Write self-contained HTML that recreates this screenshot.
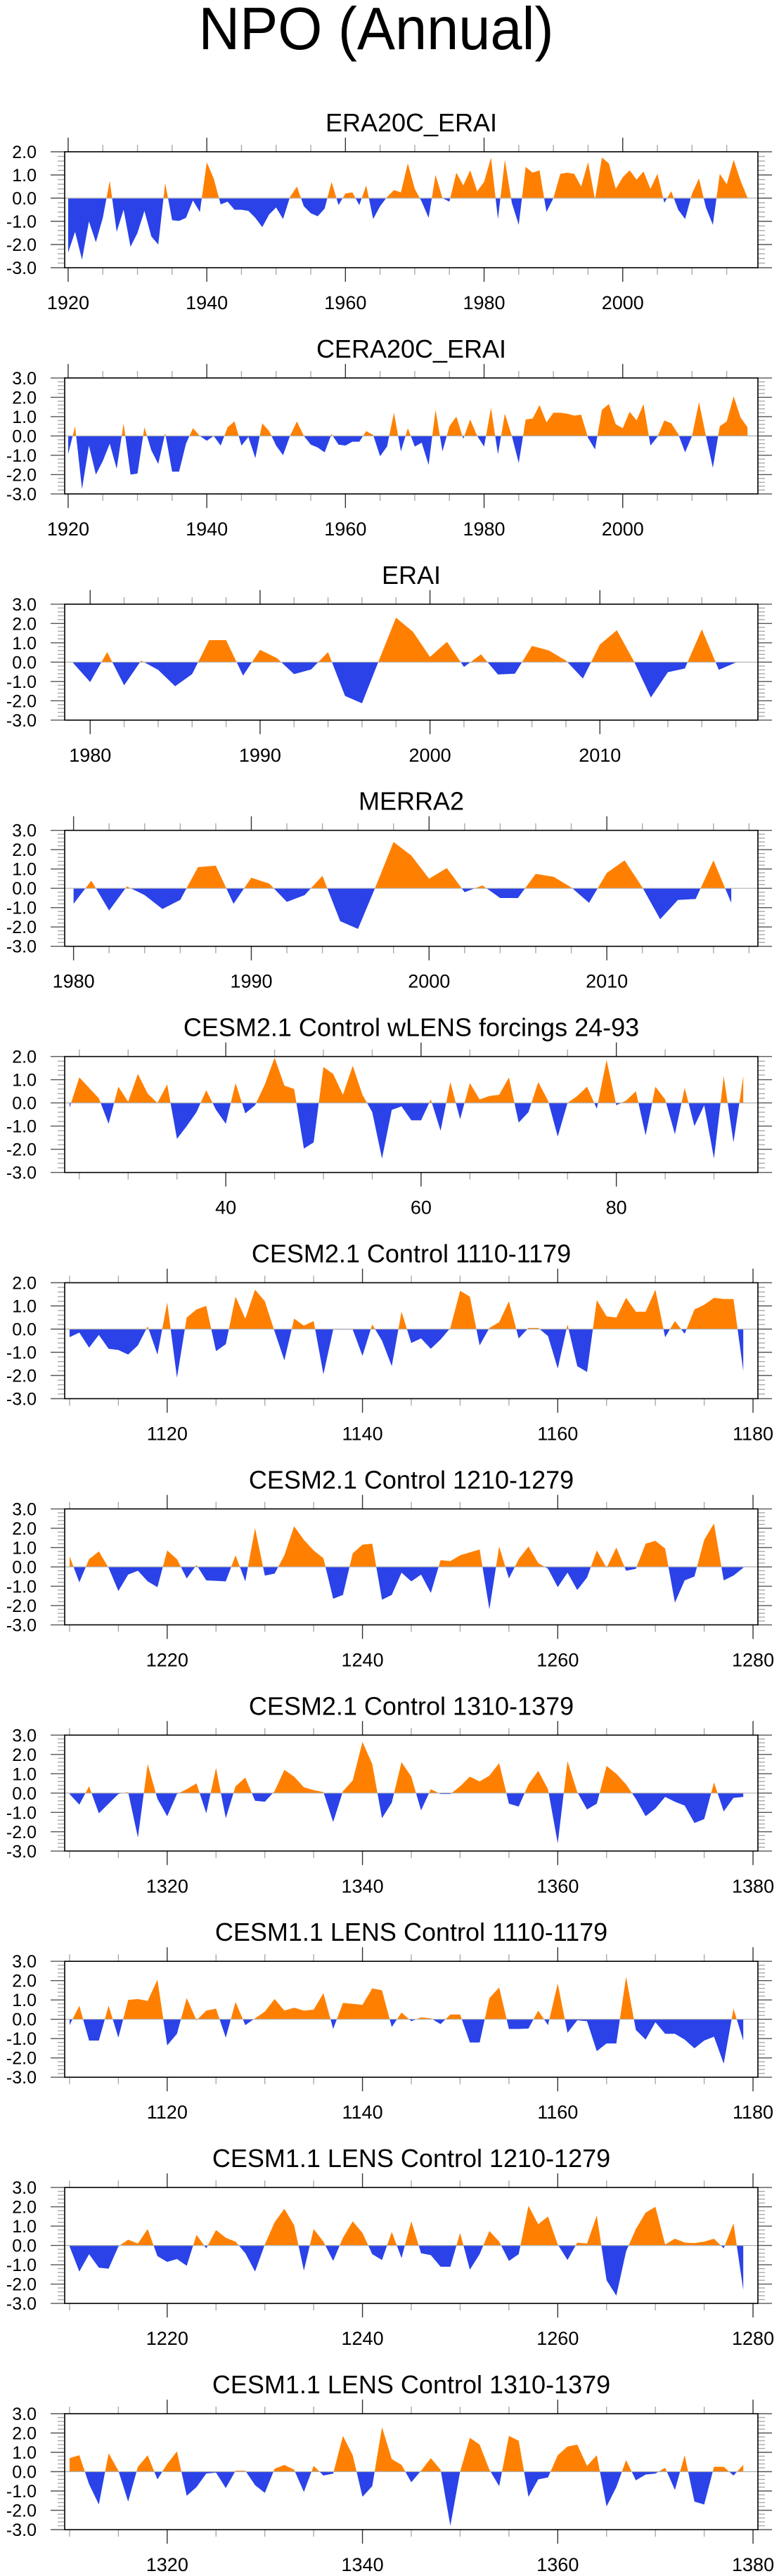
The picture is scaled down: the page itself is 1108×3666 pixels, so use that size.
<!DOCTYPE html>
<html><head><meta charset="utf-8"><title>NPO (Annual)</title>
<style>
html,body{margin:0;padding:0;background:#fff;}
svg{display:block;font-family:"Liberation Sans",Arial,sans-serif;}
</style></head>
<body>
<svg id="fig" width="1108" height="3666" viewBox="0 0 1108 3666" xmlns="http://www.w3.org/2000/svg">
<rect x="0" y="0" width="1108" height="3666" fill="#fff"/>
<text x="535" y="70" font-size="85" text-anchor="middle" textLength="505" lengthAdjust="spacingAndGlyphs" fill="#000">NPO (Annual)</text>
</svg>
<script>
// ---- data (one small array set per panel) ----
const titles = ["ERA20C_ERAI","CERA20C_ERAI","ERAI","MERRA2","CESM2.1 Control wLENS forcings 24-93","CESM2.1 Control 1110-1179","CESM2.1 Control 1210-1279","CESM2.1 Control 1310-1379","CESM1.1 LENS Control 1110-1179","CESM1.1 LENS Control 1210-1279","CESM1.1 LENS Control 1310-1379"];
const startYears = [1920,1920,1979,1980,24,1110,1210,1310,1110,1210,1310];
const xMins = [1919.5,1919.5,1978.5,1979.5,23.5,1109.5,1209.5,1309.5,1109.5,1209.5,1309.5];
const xMaxs = [2019.5,2019.5,2019.3,2018.5,94.5,1180.5,1280.5,1380.5,1180.5,1280.5,1380.5];
const yMaxs = [2,3,3,3,2,2,3,3,3,3,3];
const majorSteps = [20,20,10,10,20,20,20,20,20,20,20];
const minorSteps = [5,5,2,2,5,5,5,5,5,5,5];

const era20c = [-2.35,-1.45,-2.65,-1.0,-1.9,-0.85,0.75,-1.45,-0.5,-2.1,-1.5,-0.55,-1.65,-2.0,0.65,-0.95,-0.98,-0.85,-0.1,-0.6,1.55,0.85,-0.27,-0.15,-0.5,-0.5,-0.55,-0.85,-1.25,-0.7,-0.4,-0.9,0.05,0.5,-0.35,-0.65,-0.78,-0.45,0.7,-0.3,0.2,0.25,-0.3,0.55,-0.9,-0.35,0.05,0.35,0.25,1.5,0.4,-0.15,-0.85,1.0,0.0,-0.15,1.1,0.55,1.2,0.3,0.7,1.75,-0.9,1.65,-0.2,-1.15,1.35,1.1,1.2,-0.6,0.0,1.05,1.1,1.05,0.5,1.55,-0.05,1.75,1.5,0.4,0.9,1.2,0.8,1.15,0.4,1.05,-0.2,0.3,-0.5,-0.9,0.2,0.85,-0.4,-1.15,1.05,0.6,1.65,0.75,0.02];
const cera20c = [-0.95,0.5,-2.75,-0.5,-2.0,-1.3,-0.4,-1.7,0.65,-2.0,-1.95,0.45,-0.75,-1.45,0.15,-1.85,-1.85,-0.4,0.4,0.0,-0.25,0.0,-0.5,0.45,0.75,-0.5,-0.05,-1.15,0.65,0.25,-0.5,-1.0,0.0,0.75,0.0,-0.45,-0.6,-0.85,0.1,-0.45,-0.5,-0.3,-0.3,0.25,0.05,-1.05,-0.55,1.2,-0.8,0.4,-0.55,-0.35,-1.5,1.35,-0.8,0.5,1.0,-0.15,0.85,0.0,-0.55,1.45,-0.95,1.15,0.0,-1.4,0.85,0.9,1.6,0.7,1.2,1.2,1.15,1.05,1.1,-0.1,-0.7,1.35,1.65,0.6,0.4,1.25,0.8,1.65,-0.5,-0.05,0.8,0.65,0.1,-0.85,0.0,1.75,0.0,-1.65,0.5,0.75,2.05,0.95,0.45];
const erai = [-0.05,-1.03,0.52,-1.2,0.08,-0.4,-1.25,-0.62,1.14,1.14,-0.7,0.64,0.2,-0.62,-0.38,0.52,-1.75,-2.13,0.1,2.3,1.57,0.27,1.05,-0.25,0.4,-0.64,-0.6,0.84,0.6,0.08,-0.85,0.91,1.65,0.05,-1.83,-0.52,-0.33,1.7,-0.4,-0.02];
const merra2 = [-0.8,0.4,-1.15,0.1,-0.35,-1.07,-0.6,1.1,1.17,-0.8,0.55,0.25,-0.7,-0.35,0.65,-1.7,-2.1,0.1,2.4,1.7,0.5,1.05,-0.2,0.15,-0.5,-0.5,0.75,0.6,0.05,-0.75,0.8,1.45,0.05,-1.6,-0.6,-0.55,1.45,-0.75];
const cesm2Lens = [-0.2,1.1,0.65,0.2,-0.9,0.7,0.05,1.25,0.4,0.0,0.8,-1.55,-1.0,-0.4,0.55,-0.3,-0.9,0.85,-0.45,-0.1,0.8,1.95,0.75,0.6,-1.97,-1.7,1.55,1.25,0.35,1.6,0.35,-0.4,-2.4,-0.3,-0.15,-0.75,-0.75,0.15,-1.2,0.9,-0.7,0.85,0.15,0.3,0.35,1.1,-0.85,-0.4,0.9,0.1,-1.45,0.0,0.3,0.7,-0.25,1.85,-0.1,0.1,0.5,-1.4,0.7,0.15,-1.35,0.65,-1.0,-0.1,-2.4,1.15,-1.7,1.15];
const cesm2c1110 = [-0.35,-0.15,-0.8,-0.25,-0.85,-0.9,-1.1,-0.7,0.12,-1.1,1.15,-2.1,0.5,0.85,1.0,-0.95,-0.65,1.4,0.45,1.7,1.2,-0.1,-1.35,0.45,0.15,0.35,-1.95,-0.02,-0.02,-0.02,-1.15,0.2,-0.5,-1.6,0.75,-0.6,-0.4,-0.85,-0.45,0.05,1.65,1.4,-0.7,0.05,0.3,1.2,-0.4,0.05,0.05,-0.3,-1.7,0.2,-1.6,-1.85,1.25,0.55,0.5,1.35,0.75,0.75,1.7,-0.35,0.35,-0.2,0.85,1.05,1.35,1.3,1.3,-1.8];
const cesm2c1210 = [0.55,-0.8,0.4,0.8,-0.05,-1.25,-0.4,-0.2,-0.75,-1.05,0.85,0.4,-0.6,0.1,-0.7,-0.72,-0.75,0.6,-0.75,2.0,-0.45,-0.35,0.6,2.1,1.4,0.85,0.45,-1.65,-1.45,0.7,1.15,1.2,-1.7,-1.45,-0.3,-0.75,-0.4,-1.35,0.35,0.3,0.6,0.75,0.9,-2.2,1.05,-0.6,0.4,1.05,0.2,-0.1,-1.05,-0.3,-1.2,-0.55,0.85,-0.05,1.0,-0.2,-0.1,1.2,1.35,0.95,-1.85,-0.7,-0.5,1.4,2.25,-0.7,-0.45,-0.05];
const cesm2c1310 = [-0.05,-0.6,0.35,-1.05,-0.55,-0.05,0.05,-2.3,1.5,-0.3,-1.2,-0.05,0.2,0.5,-1.05,1.3,-1.3,0.35,0.8,-0.4,-0.45,0.1,1.2,0.85,0.3,0.15,0.05,-1.5,0.1,0.65,2.65,1.5,-1.3,-0.5,1.6,0.85,-0.9,0.2,-0.05,-0.05,0.35,0.85,0.6,0.9,1.55,-0.55,-0.7,0.45,1.15,0.2,-2.6,1.65,0.05,-0.85,-0.55,1.4,1.0,0.45,-0.3,-1.2,-0.8,-0.2,-0.45,-0.65,-1.55,-1.35,0.55,-0.95,-0.25,-0.2];
const cesm1c1110 = [-0.3,0.7,-1.1,-1.1,0.7,-0.95,1.0,1.05,0.95,2.05,-1.35,-0.75,1.1,-0.05,0.45,0.55,-0.95,0.9,-0.3,0.05,0.4,1.05,0.45,0.6,0.45,0.5,1.35,-0.5,0.85,0.8,0.75,1.6,1.5,-0.4,0.35,-0.1,0.1,0.05,-0.25,0.25,0.25,-1.2,-1.2,1.1,1.65,-0.5,-0.5,-0.48,0.45,-0.3,1.85,-0.7,-0.05,-0.1,-1.65,-1.25,-1.25,2.2,-0.55,-1.05,-0.15,-0.75,-0.75,-1.05,-1.5,-1.1,-0.9,-2.3,0.55,-1.1];
const cesm1c1210 = [-0.05,-1.35,-0.45,-1.15,-1.2,-0.05,0.3,0.1,0.85,-0.55,-0.85,-0.7,-1.05,0.55,-0.15,0.8,0.4,0.2,-0.4,-1.35,0.05,1.2,1.9,1.05,-1.3,0.85,0.2,-0.8,0.4,1.25,0.65,-0.45,-0.75,0.7,-0.65,1.25,-0.4,-0.5,-1.1,-1.1,0.65,-1.25,-0.45,0.75,0.2,-0.8,-0.45,2.05,1.1,1.5,0.05,-0.75,0.15,0.1,1.55,-1.8,-2.6,-0.3,0.85,1.7,2.0,0.05,0.35,0.15,0.12,0.2,0.35,-0.15,1.15,-2.3];
const cesm1c1310 = [0.7,0.85,-0.65,-1.7,0.95,0.05,-1.55,0.25,0.85,-0.4,0.4,1.05,-1.25,-0.8,-0.1,-0.05,-0.85,0.05,0.05,-0.7,-1.1,0.15,0.35,0.1,-1.05,0.3,-0.2,-0.1,1.85,0.85,-1.3,-0.75,2.3,0.65,0.35,-0.55,0.05,0.7,0.1,-2.8,0.0,1.75,1.4,0.1,-0.75,1.85,1.6,-1.3,-0.4,-0.3,0.85,1.3,1.4,0.3,0.85,-1.8,-0.8,0.6,-0.45,-0.15,-0.1,0.2,-0.95,0.85,-1.55,-1.7,0.25,0.25,-0.2,0.35];
const seriesList = [era20c,cera20c,erai,merra2,cesm2Lens,cesm2c1110,cesm2c1210,cesm2c1310,cesm1c1110,cesm1c1210,cesm1c1310];
const yMin = -3;

// ---- drawing ----
const NS = "http://www.w3.org/2000/svg";
const svg = document.getElementById("fig");
const L = 92, R = 1078, PITCH = 321.9, TOP0 = 216, H = 165;
function mk(tag, attrs, parent){
  const e = document.createElementNS(NS, tag);
  for (const k in attrs) e.setAttribute(k, attrs[k]);
  (parent||svg).appendChild(e);
  return e;
}
function fmt(v){ return v.toFixed(1); }

seriesList.forEach(function(vals, p){
  const top = TOP0 + p*PITCH, bot = top + H;
  const x0 = xMins[p], x1 = xMaxs[p], yTop = yMaxs[p];
  const xs = function(x){ return L + (x - x0)/(x1 - x0)*(R - L); };
  const ys = function(v){ return top + (yTop - v)/(yTop - yMin)*(bot - top); };

  const g = mk("g", {});
  
  

  const title = mk("text", {x: (L+R)/2, y: top-29, "font-size": 36, "text-anchor": "middle", fill: "#000"}, g);
  
  
  title.textContent = titles[p];

  const id = "c" + p;
  const defs = mk("defs", {}, g);
  const cpU = mk("clipPath", {id: id + "u"}, defs);
  mk("rect", {x: L, y: top, width: R-L, height: ys(0)-top}, cpU);
  const cpD = mk("clipPath", {id: id + "d"}, defs);
  mk("rect", {x: L, y: ys(0), width: R-L, height: bot-ys(0)}, cpD);

  let pts = [];
  vals.forEach(function(v, i){ pts.push(xs(startYears[p]+i).toFixed(2) + "," + ys(v).toFixed(2)); });
  const xa = xs(startYears[p]).toFixed(2), xb = xs(startYears[p]+vals.length-1).toFixed(2), y0 = ys(0).toFixed(2);
  const poly = xa + "," + y0 + " " + pts.join(" ") + " " + xb + "," + y0;
  const pos = mk("polygon", {points: poly, fill: "#ff8000", "clip-path": "url(#" + id + "u)"}, g);
  
  
  const neg = mk("polygon", {points: poly, fill: "#2a42e8", "clip-path": "url(#" + id + "d)"}, g);
  
  

  const zl = mk("line", {x1: L, x2: R, y1: ys(0), y2: ys(0), stroke: "#b0b0b0", "stroke-width": 1.2}, g);
  
  

  for (let k = 0; k <= (yTop - yMin)*5; k++){
    const v = yMin + k*0.2;
    const y = ys(v);
    const major = Math.abs(v - Math.round(v)) < 1e-6;
    const len = major ? 20 : 10;
    mk("line", {x1: L-len, x2: L, y1: y, y2: y, stroke: major ? "#555" : "#aaa", "stroke-width": 1.4}, g);
    mk("line", {x1: R, x2: R+len, y1: y, y2: y, stroke: major ? "#555" : "#aaa", "stroke-width": 1.4}, g);
    if (major){
      const t = mk("text", {x: 52, y: y + 9, "font-size": 25, "text-anchor": "end", fill: "#000"}, g);
      
      
      t.textContent = fmt(v);
    }
  }
  const ms = minorSteps[p], Ms = majorSteps[p];
  for (let x = Math.ceil(x0/ms)*ms; x <= x1; x += ms){
    const px = xs(x);
    const major = x % Ms === 0;
    const len = major ? 20 : 10;
    mk("line", {x1: px, x2: px, y1: top-len, y2: top, stroke: major ? "#333" : "#aaa", "stroke-width": 1.4}, g);
    mk("line", {x1: px, x2: px, y1: bot, y2: bot+len, stroke: major ? "#333" : "#aaa", "stroke-width": 1.4}, g);
    if (major){
      const t = mk("text", {x: px, y: bot + 59, "font-size": 27, "text-anchor": "middle", fill: "#000"}, g);
      
      
      t.textContent = String(x);
    }
  }
  const fr = mk("rect", {x: L, y: top, width: R-L, height: H, fill: "none", stroke: "#000", "stroke-width": 1.6}, g);
  
  
});
</script>
</body></html>
